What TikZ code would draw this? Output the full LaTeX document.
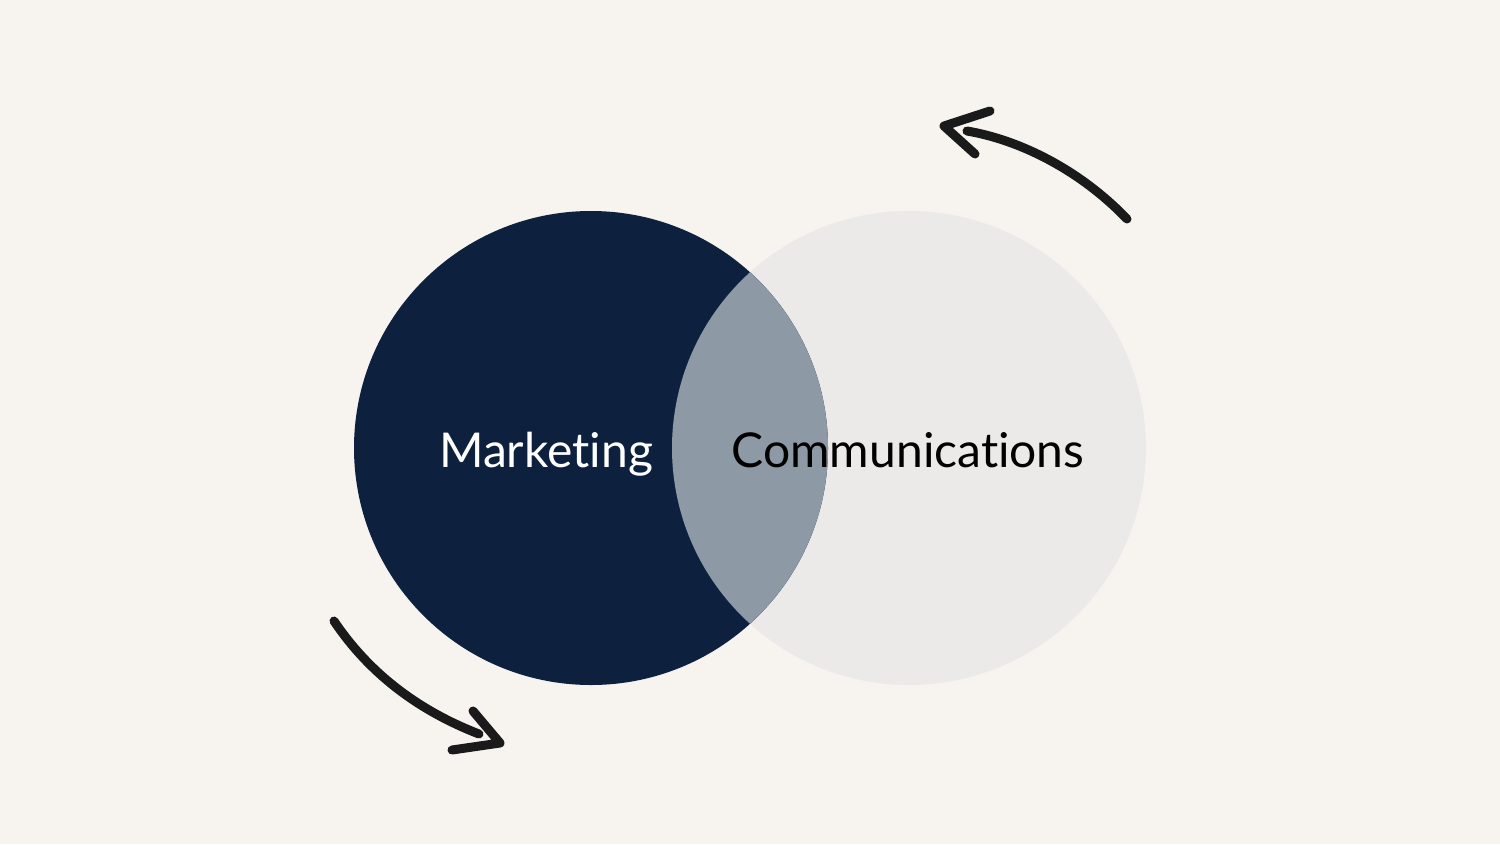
\documentclass[tikz,border=0pt]{standalone}
\usepackage{fontspec}
\setmainfont{Lato}[Ligatures={NoCommon}]
\definecolor{bgc}{HTML}{F7F4F0}
\definecolor{navy}{HTML}{0D213F}
\definecolor{lens}{HTML}{8D99A5}
\definecolor{lightc}{HTML}{ECEAE8}
\definecolor{ink}{HTML}{1A1A1A}
\begin{document}
\begin{tikzpicture}[x=1pt,y=-1pt,
  arrowline/.style={draw=ink,line width=9pt,line cap=round,line join=round},
  label/.style={anchor=base,font=\fontsize{48}{52}\selectfont,inner sep=0pt}]
\fill[bgc] (0,0) rectangle (1500,844);
\useasboundingbox (0,0) rectangle (1500,844);
\fill[lightc] (909,448) circle (237);
\fill[navy] (591,448) circle (237);
\begin{scope}
  \clip (591,448) circle (237);
  \fill[lens] (909,448) circle (237);
\end{scope}
\node[label,text=white] (mk) at (546,467) {Marketing};
\node[label,text=black] (cm) at (908,467) {Communications};
% bottom-left arrow
\coordinate (b0) at (334,621);
\coordinate (b1) at (479,734);
\coordinate (bt) at (500,743);
\coordinate (ba) at (473,711);
\coordinate (bb) at (452,750);
\draw[arrowline] (b0) .. controls (375,682) and (430,715) .. (b1);
\draw[arrowline] (ba) -- (bt) -- (bb);
% top-right arrow
\coordinate (t0) at (1127,219);
\coordinate (t1) at (967,131);
\coordinate (tt) at (944,126);
\coordinate (ta) at (990,111);
\coordinate (tb) at (975,154);
\draw[arrowline] (t0) .. controls (1080,170) and (1020,140) .. (t1);
\draw[arrowline] (ta) -- (tt) -- (tb);
\end{tikzpicture}
\end{document}
